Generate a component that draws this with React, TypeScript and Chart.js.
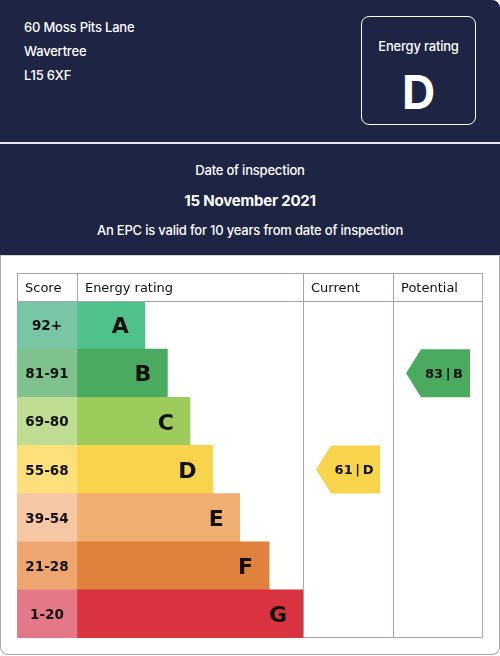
import React, { useEffect, useRef } from "react";
import { Chart, registerables } from "chart.js";

Chart.register(...registerables);

// ---- data ----
const bands = ["A", "B", "C", "D", "E", "F", "G"];
const scoreRanges = ["92+", "81-91", "69-80", "55-68", "39-54", "21-28", "1-20"];
// bar length as % of the "Energy rating" column width
const barLengths = [30, 40, 50, 60, 72, 85, 100];
const barColors = ["#4fc28c", "#4aaa60", "#9dcb5b", "#f8d44c", "#f0ae70", "#e0823e", "#d9333f"];
const scoreColors = ["#78c6a6", "#80c28e", "#bedd92", "#fde07a", "#f5c8a3", "#eda66f", "#e57886"];
const columnHeaders = ["Score", "Energy rating", "Current", "Potential"];
const currentScore = 61;
const currentBand = "D";
const potentialScore = 83;
const potentialBand = "B";

const address = ["60 Moss Pits Lane", "Wavertree", "L15 6XF"];
const inspectionDate = "15 November 2021";

// column widths, in the same units as the bar lengths
const SCORE_COL = 26.5;
const RATING_COL = 100;
const CURRENT_COL = 39.8;
const POTENTIAL_COL = 39.8;

const NAVY = "#1d2444";
const GRID = "#a4a5b8";

const tablePlugin = {
  id: "epcTable",
  afterDatasetsDraw(chart: any) {
    const { ctx, chartArea } = chart;
    const xs = chart.scales.x;
    const ys = chart.scales.y;
    const c0 = xs.getPixelForValue(-SCORE_COL);
    const c1 = xs.getPixelForValue(0);
    const c2 = xs.getPixelForValue(RATING_COL);
    const c3 = xs.getPixelForValue(RATING_COL + CURRENT_COL);
    const c4 = xs.getPixelForValue(RATING_COL + CURRENT_COL + POTENTIAL_COL);
    const top = chartArea.top;
    const bottom = chartArea.bottom;
    const headTop = top - 28;
    const rowH = (bottom - top) / bands.length;

    ctx.save();
    ctx.strokeStyle = GRID;
    ctx.lineWidth = 1;
    const line = (x1: number, y1: number, x2: number, y2: number) => {
      ctx.beginPath();
      ctx.moveTo(x1, y1);
      ctx.lineTo(x2, y2);
      ctx.stroke();
    };
    const r = (v: number) => Math.round(v) + 0.5;
    line(c0, r(headTop), c4, r(headTop));
    line(c0, r(top), c4, r(top));
    line(r(c0), headTop, r(c0), top);
    line(r(c1), headTop, r(c1), top);
    line(r(c2), headTop, r(c2), bottom);
    line(r(c3), headTop, r(c3), bottom);
    line(r(c4) - 1, headTop, r(c4) - 1, bottom);
    line(c2, r(bottom) - 1, c4, r(bottom) - 1);

    // header texts
    ctx.fillStyle = "#111";
    ctx.font = "13px 'DejaVu Sans'";
    ctx.textBaseline = "middle";
    ctx.textAlign = "left";
    const hy = (headTop + top) / 2 + 2;
    [c0, c1, c2, c3].forEach((cx, i) => ctx.fillText(columnHeaders[i], cx + 8, hy));

    // score ranges and band letters
    bands.forEach((b, i) => {
      const cy = ys.getPixelForValue(i);
      ctx.fillStyle = "#111";
      ctx.font = "bold 13.5px 'DejaVu Sans'";
      ctx.textAlign = "center";
      ctx.fillText(scoreRanges[i], (c0 + c1) / 2, cy + 1.5);
      ctx.font = "bold 22px 'DejaVu Sans'";
      ctx.textAlign = "right";
      ctx.fillText(b, xs.getPixelForValue(barLengths[i]) - 16, cy + 2.5);
    });

    // arrows
    const arrow = (colStart: number, colEnd: number, band: string, score: number) => {
      const idx = bands.indexOf(band);
      const cy = ys.getPixelForValue(idx);
      const t = cy - rowH / 2;
      const bt = cy + rowH / 2;
      const tip = colStart + 13;
      const bodyStart = colStart + 28;
      const end = colEnd - 13;
      ctx.fillStyle = barColors[idx];
      ctx.beginPath();
      ctx.moveTo(tip, cy);
      ctx.lineTo(bodyStart, t);
      ctx.lineTo(end, t);
      ctx.lineTo(end, bt);
      ctx.lineTo(bodyStart, bt);
      ctx.closePath();
      ctx.fill();
      ctx.fillStyle = "#111";
      ctx.font = "bold 13px 'DejaVu Sans'";
      ctx.textAlign = "center";
      ctx.fillText(`${score}\u2009|\u2009${band}`, (bodyStart + end) / 2 - 1.5, cy + 1);
    };
    arrow(c2, c3, currentBand, currentScore);
    arrow(c3, c4, potentialBand, potentialScore);
    ctx.restore();
  },
};

export default function App() {
  const ref = useRef<HTMLCanvasElement>(null);

  useEffect(() => {
    if (!ref.current) return;
    const chart = new Chart(ref.current, {
      type: "bar",
      data: {
        labels: bands,
        datasets: [
          {
            data: bands.map(() => [-SCORE_COL, 0]) as any,
            backgroundColor: scoreColors,
            grouped: false,
            barPercentage: 1,
            categoryPercentage: 1,
            borderWidth: 0,
          } as any,
          {
            data: barLengths,
            backgroundColor: barColors,
            grouped: false,
            barPercentage: 1,
            categoryPercentage: 1,
            borderWidth: 0,
          } as any,
        ],
      },
      options: {
        indexAxis: "y",
        responsive: false,
        animation: false,
        layout: { padding: { left: 17, right: 17, top: 43, bottom: 16 } },
        plugins: { legend: { display: false }, tooltip: { enabled: false } },
        scales: {
          x: {
            type: "linear",
            display: false,
            min: -SCORE_COL,
            max: RATING_COL + CURRENT_COL + POTENTIAL_COL,
          },
          y: { type: "category", display: false },
        },
      },
      plugins: [tablePlugin],
    });
    return () => chart.destroy();
  }, []);

  const headFont = "Inter, 'Noto Sans', sans-serif";
  const abs = (o: React.CSSProperties): React.CSSProperties => ({ position: "absolute", margin: 0, ...o });
  const txt: React.CSSProperties = { color: "#fff", fontSize: 13, fontWeight: 500, lineHeight: "18px", letterSpacing: "-0.2px", whiteSpace: "nowrap" };

  return (
    <div style={{ position: "absolute", left: 0, top: 0, width: 500, height: 656, background: "#fff", fontFamily: headFont }}>
      <div style={abs({ left: 0, top: 0, width: 500, height: 255, background: NAVY, borderTopRightRadius: 8 })} />
      {address.map((a, i) => (
        <div key={a} style={abs({ ...txt, left: 24, top: 18 + i * 24 })}>
          {a}
        </div>
      ))}
      <div style={abs({ left: 361, top: 16, width: 115, height: 109, boxSizing: "border-box", border: "1.5px solid #fff", borderRadius: 8, color: "#fff", textAlign: "center" })}>
        <div style={abs({ ...txt, left: 0, right: 0, top: 20 })}>Energy rating</div>
        <div style={abs({ left: 0, right: 0, top: 50, fontSize: 46, fontWeight: 700, lineHeight: "50px" })}>{currentBand}</div>
      </div>
      <div style={abs({ left: 0, top: 142, width: 500, height: 2, background: "#e8e9ef" })} />
      <div style={abs({ ...txt, left: 0, right: 0, top: 161, textAlign: "center" })}>Date of inspection</div>
      <div style={abs({ ...txt, left: 0, right: 0, top: 191, textAlign: "center", fontSize: 15, fontWeight: 700, lineHeight: "20px" })}>{inspectionDate}</div>
      <div style={abs({ ...txt, left: 0, right: 0, top: 221, textAlign: "center" })}>
        An EPC is valid for 10 years from date of inspection
      </div>
      <div style={abs({ left: 0, top: 255, width: 500, height: 400, boxSizing: "border-box", border: "1px solid #a8a8ae", borderTop: "1px solid #d4d5dc", borderBottomLeftRadius: 8, borderBottomRightRadius: 8 })} />
      <canvas ref={ref} width={500} height={396} style={abs({ left: 0, top: 258, width: 500, height: 396 })} />
    </div>
  );
}
